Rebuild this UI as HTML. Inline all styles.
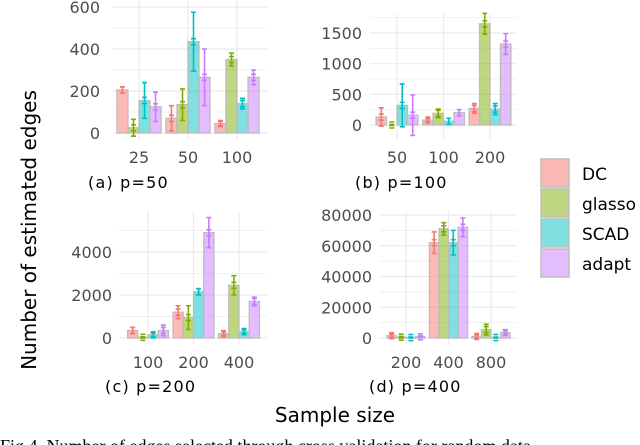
<!DOCTYPE html>
<html><head><meta charset="utf-8"><style>
body{margin:0;background:#fff;}
svg{display:block;font-family:"DejaVu Sans","Liberation Sans",sans-serif;}
</style></head><body>
<svg id="chart" width="640" height="445" viewBox="0 0 640 445">
<text x="36" y="230" transform="rotate(-90 36 230)" text-anchor="middle" font-size="20" fill="#000">Number of estimated edges</text>
<text x="335" y="422" text-anchor="middle" font-size="20" fill="#000">Sample size</text>
<text x="0" y="452" font-family="Liberation Serif, serif" font-size="18" fill="#000">Fig.4. Number of edges selected through cross validation for random data</text>
<g id="legend"></g>
</svg>
<script>
const methods = ["DC","glasso","SCAD","adapt"];
const colors = ["#F8766D","#7CAE00","#00BFC4","#C77CFF"];
const catsA = ["25","50","100"];
const meanA = [[205,25,155,125],[70,135,435,265],[45,350,140,265]];
const errA = [[15,40,85,70],[60,75,140,135],[10,30,25,35]];
const catsB = ["50","100","200"];
const meanB = [[130,0,320,160],[80,190,60,200],[270,1650,260,1320]];
const errB = [[150,10,350,330],[25,70,50,50],[80,170,90,170]];
const catsC = ["100","200","400"];
const meanC = [[350,30,150,350],[1200,950,2150,4900],[200,2450,300,1700]];
const errC = [[150,30,80,250],[300,550,150,700],[80,450,80,200]];
const catsD = ["200","400","800"];
const meanD = [[1500,500,300,800],[62000,71000,62000,72000],[1000,5500,300,3500]];
const errD = [[1000,500,300,600],[7000,4000,8000,6000],[1000,3500,300,1000]];
const ticksA = [0,200,400,600];
const ticksB = [0,500,1000,1500];
const ticksC = [0,2000,4000];
const ticksD = [0,20000,40000,60000,80000];

const NS="http://www.w3.org/2000/svg";
const svg=document.getElementById('chart');
function mk(tag,attrs,parent){const e=document.createElementNS(NS,tag);for(const k in attrs)e.setAttribute(k,attrs[k]);(parent||svg).appendChild(e);return e;}

function panel(id,cfg,cats,means,errs,ticks,caption){
  const g=mk('g',{});
  
  
  const y=v=>cfg.y0-(v/cfg.vref)*(cfg.y0-cfg.yref);
  const x=i=>cfg.c0+i*cfg.sp;
  const step=ticks[1]-ticks[0];
  for(let t=ticks[0]-step/2;y(t)>=cfg.top-1;t+=step/2){
    if(y(t)>cfg.bot)continue;
    const l=mk('line',{x1:cfg.x1,x2:cfg.x2,y1:y(t),y2:y(t),stroke:'#ebebeb','stroke-width':Math.abs((t/step)%1)<1e-9?1.2:0.7},g);
    
    
  }
  cats.forEach((c,i)=>{
    const l=mk('line',{x1:x(i),x2:x(i),y1:cfg.top,y2:cfg.bot,stroke:'#ebebeb','stroke-width':1.2},g);
    
    
  });
  ticks.forEach(t=>{
    const tx=mk('text',{x:cfg.lx,y:y(t)+6,'text-anchor':'end','font-size':16,fill:'#4d4d4d'},g);
    tx.textContent=t;
    
    
  });
  const bw=cfg.sp*0.9/4;
  cats.forEach((c,i)=>{
    const tx=mk('text',{x:x(i),y:cfg.bot+23,'text-anchor':'middle','font-size':16,fill:'#4d4d4d'},g);
    tx.textContent=c;
    
    
    for(let m=0;m<4;m++){
      const v=means[i][m],e=errs[i][m];
      const bx=x(i)-2*bw+m*bw;
      const r=mk('rect',{x:bx,y:Math.min(y(v),y(0)),width:bw,height:Math.abs(y(0)-y(v)),fill:colors[m],'fill-opacity':0.5,stroke:'#bdbdbd','stroke-width':1.3},g);
      
      
      const cx=bx+bw/2;
      const eb=mk('path',{d:`M${cx},${y(v-e)}V${y(v+e)}M${cx-2.5},${y(v-e)}H${cx+2.5}M${cx-2.5},${y(v+e)}H${cx+2.5}M${cx-2.5},${y(v)-3}H${cx+2.5}M${cx-2.5},${y(v)+3}H${cx+2.5}`,stroke:colors[m],'stroke-width':1.6,fill:'none'},g);
      
      
    }
  });
  const cp=mk('text',{x:cfg.capx,y:cfg.capy,'font-size':16,fill:'#000','letter-spacing':'1.2'},g);
  cp.textContent=caption;
  
  
}
panel('a',{y0:133,yref:7,vref:600,c0:139,sp:49,x1:113,x2:267,top:0,bot:140,lx:100,capx:88,capy:188},catsA,meanA,errA,ticksA,'(a) p=50');
panel('b',{y0:125,yref:33,vref:1500,c0:397,sp:46.5,x1:370,x2:517,top:14,bot:140,lx:362,capx:355,capy:188},catsB,meanB,errB,ticksB,'(b) p=100');
panel('c',{y0:338,yref:252,vref:4000,c0:148,sp:45.5,x1:119,x2:267,top:211,bot:345,lx:112,capx:105,capy:392},catsC,meanC,errC,ticksC,'(c) p=200');
panel('d',{y0:338,yref:215,vref:80000,c0:406,sp:42.5,x1:380,x2:517,top:211,bot:345,lx:372,capx:369,capy:392},catsD,meanD,errD,ticksD,'(d) p=400');

const lg=document.getElementById('legend');
methods.forEach((m,i)=>{
  const r=mk('rect',{x:541,y:159+i*30,width:28,height:28,fill:colors[i],'fill-opacity':0.5,stroke:'#bdbdbd','stroke-width':1.5},lg);
  
  
  const t=mk('text',{x:582,y:180+i*30,'font-size':17,fill:'#000'},lg);
  t.textContent=m;
  
  
});
</script>
</body></html>
